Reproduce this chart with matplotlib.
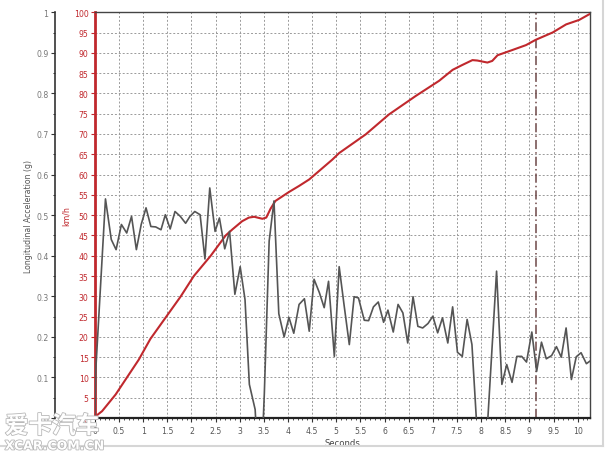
import numpy as np
import matplotlib
matplotlib.use("Agg")
import matplotlib.pyplot as plt
from matplotlib.ticker import MultipleLocator, FuncFormatter
import matplotlib.patheffects as pe

#### data ####

# longitudinal acceleration (g) vs time (s)
acc_t = [0, 0.02, 0.22, 0.34, 0.44, 0.55, 0.66, 0.76, 0.86, 0.96,
         1.06, 1.16, 1.26, 1.37, 1.46, 1.56, 1.66, 1.77, 1.88, 1.97,
         2.07, 2.18, 2.28, 2.38, 2.49, 2.58, 2.69, 2.79, 2.90, 3.01,
         3.11, 3.20, 3.32, 3.42, 3.51, 3.61, 3.71, 3.81, 3.92, 4.02,
         4.12, 4.23, 4.34, 4.44, 4.54, 4.65, 4.75, 4.84, 4.96, 5.06,
         5.16, 5.27, 5.37, 5.46, 5.58, 5.67, 5.77, 5.87, 5.98, 6.07,
         6.18, 6.28, 6.38, 6.48, 6.59, 6.69, 6.79, 6.90, 7.00, 7.10,
         7.20, 7.31, 7.41, 7.51, 7.61, 7.71, 7.81, 7.91, 8.02, 8.12,
         8.22, 8.32, 8.43, 8.53, 8.64, 8.74, 8.84, 8.94, 9.05, 9.15,
         9.25, 9.35, 9.46, 9.56, 9.66, 9.76, 9.87, 9.97, 10.07, 10.18,
         10.25]
acc_g = [0, 0.12, 0.54, 0.44, 0.415, 0.477, 0.456, 0.497, 0.415, 0.477,
         0.518, 0.472, 0.471, 0.464, 0.501, 0.466, 0.509, 0.497, 0.48, 0.497,
         0.509, 0.501, 0.392, 0.567, 0.46, 0.493, 0.417, 0.46, 0.305, 0.373,
         0.292, 0.083, 0.021, -0.2, 0.06, 0.436, 0.535, 0.257, 0.2, 0.248,
         0.209, 0.28, 0.294, 0.214, 0.342, 0.309, 0.272, 0.337, 0.152, 0.373,
         0.28, 0.181, 0.299, 0.296, 0.241, 0.24, 0.274, 0.286, 0.236, 0.266,
         0.212, 0.28, 0.259, 0.185, 0.299, 0.226, 0.222, 0.233, 0.251, 0.21,
         0.247, 0.185, 0.274, 0.162, 0.152, 0.243, 0.181, -0.02, -0.3, -0.04,
         0.16, 0.362, 0.083, 0.132, 0.088, 0.152, 0.152, 0.138, 0.212, 0.115,
         0.187, 0.146, 0.154, 0.176, 0.15, 0.222, 0.095, 0.151, 0.161, 0.134,
         0.14]

# vehicle speed (km/h) vs time (s)
spd_t = [0, 0.15, 0.43, 0.91, 1.15, 1.48, 1.78, 2.05, 2.40, 2.71,
         2.85, 3.05, 3.19, 3.30, 3.47, 3.55, 3.64, 3.74, 4.02, 4.23,
         4.44, 4.92, 5.06, 5.61, 6.09, 6.65, 7.13, 7.41, 7.61, 7.82,
         7.92, 8.13, 8.23, 8.34, 8.65, 8.93, 9.13, 9.48, 9.76, 10.03,
         10.24]
spd_kmh = [0.3, 1.7, 5.8, 14.4, 19.5, 25.0, 30.0, 35.0, 40.0, 45.0,
           46.5, 48.5, 49.4, 49.6, 49.1, 49.4, 51.6, 53.5, 55.7, 57.2,
           58.8, 63.7, 65.3, 69.9, 74.8, 79.4, 83.1, 85.8, 87.0, 88.2,
           88.1, 87.6, 88.0, 89.4, 90.7, 91.9, 93.2, 95.0, 97.0, 98.1,
           99.5]

marker_t = 9.14   # cursor line

red = '#c0282d'
fs = 5.6
fmt_g = FuncFormatter(lambda v, p: '%g' % round(v, 2))


fig = plt.figure(figsize=(6.08, 4.56), dpi=100)
ax = fig.add_axes([0.156, 0.081, 0.814, 0.890])

### speed axis (red, inner) ###
ax.plot(spd_t, spd_kmh, color=red, lw=1.5, zorder=3)
ax.set_xlim(0, 10.25)
ax.set_ylim(0, 100)
ax.yaxis.set_major_locator(MultipleLocator(5))
ax.yaxis.set_major_formatter(fmt_g)
ax.xaxis.set_major_locator(MultipleLocator(0.5))
ax.xaxis.set_minor_locator(MultipleLocator(0.1))
ax.xaxis.set_major_formatter(fmt_g)
ax.grid(True, which='major', color='#9a9a9a', ls=(0, (2, 2)), lw=0.7)
ax.set_axisbelow(True)

ax.tick_params(axis='y', colors=red, labelsize=fs, length=3, width=0.8, pad=1.5)
ax.tick_params(axis='x', colors='#333333', labelcolor='#555555', labelsize=fs,
               length=3, width=0.8, pad=3)
ax.tick_params(axis='x', which='minor', length=1.5, width=0.6, colors='#333333')
ax.spines['left'].set_color(red)
ax.spines['left'].set_linewidth(2)
for s in ['top', 'right']:
    ax.spines[s].set_color('#444444')
    ax.spines[s].set_linewidth(1)
ax.spines['bottom'].set_color('#222222')
ax.spines['bottom'].set_linewidth(1.6)
ax.set_ylabel('km/h', color=red, fontsize=fs, labelpad=2)
ax.set_xlabel('Seconds', color='#444444', fontsize=fs + 0.5, labelpad=2)

ax.axvline(marker_t, color='#6e4848', lw=1.1, ls=(0, (6, 2, 1, 2)), zorder=2)

### acceleration axis (grey, outer) ###
ax2 = ax.twinx()
ax2.plot(acc_t, acc_g, color='#555555', lw=1.2, zorder=4)
ax2.set_ylim(0, 1)
ax2.yaxis.set_major_locator(MultipleLocator(0.1))
ax2.yaxis.set_minor_locator(MultipleLocator(0.05))
ax2.yaxis.set_major_formatter(fmt_g)
ax2.yaxis.set_ticks_position('left')
ax2.yaxis.set_label_position('left')
ax2.spines['left'].set_position(('axes', -0.081))
ax2.spines['left'].set_color('#333333')
ax2.spines['left'].set_linewidth(1.2)
for s in ['top', 'right', 'bottom']:
    ax2.spines[s].set_visible(False)
ax2.tick_params(axis='y', colors='#333333', labelcolor='#777777',
                labelsize=fs, length=3, width=0.8, pad=1.5)
ax2.tick_params(axis='y', which='minor', length=1.5, width=0.6)
ax2.set_ylabel('Longitudinal Acceleration (g)', color='#555555',
               fontsize=fs, labelpad=2)

### page frame + watermark ###
fig.add_artist(plt.Line2D([603 / 608, 603 / 608], [1, 1 - 447 / 456],
                          transform=fig.transFigure, color='#d6d6d6', lw=1.5))
fig.add_artist(plt.Line2D([0, 603 / 608], [1 - 447 / 456, 1 - 447 / 456],
                          transform=fig.transFigure, color='#d6d6d6', lw=1.5))
outline = [pe.withStroke(linewidth=1.2, foreground='#b8b8b8')]
fig.text(0.008, 0.048, '爱卡汽车', family=['Noto Sans CJK SC', 'DejaVu Sans'],
         fontsize=17, fontweight='bold', color='white', path_effects=outline)
fig.text(0.008, 0.012, 'XCAR.COM.CN', fontsize=9, fontweight='bold',
         color='white', path_effects=outline)

plt.savefig('out.png', dpi=100)
